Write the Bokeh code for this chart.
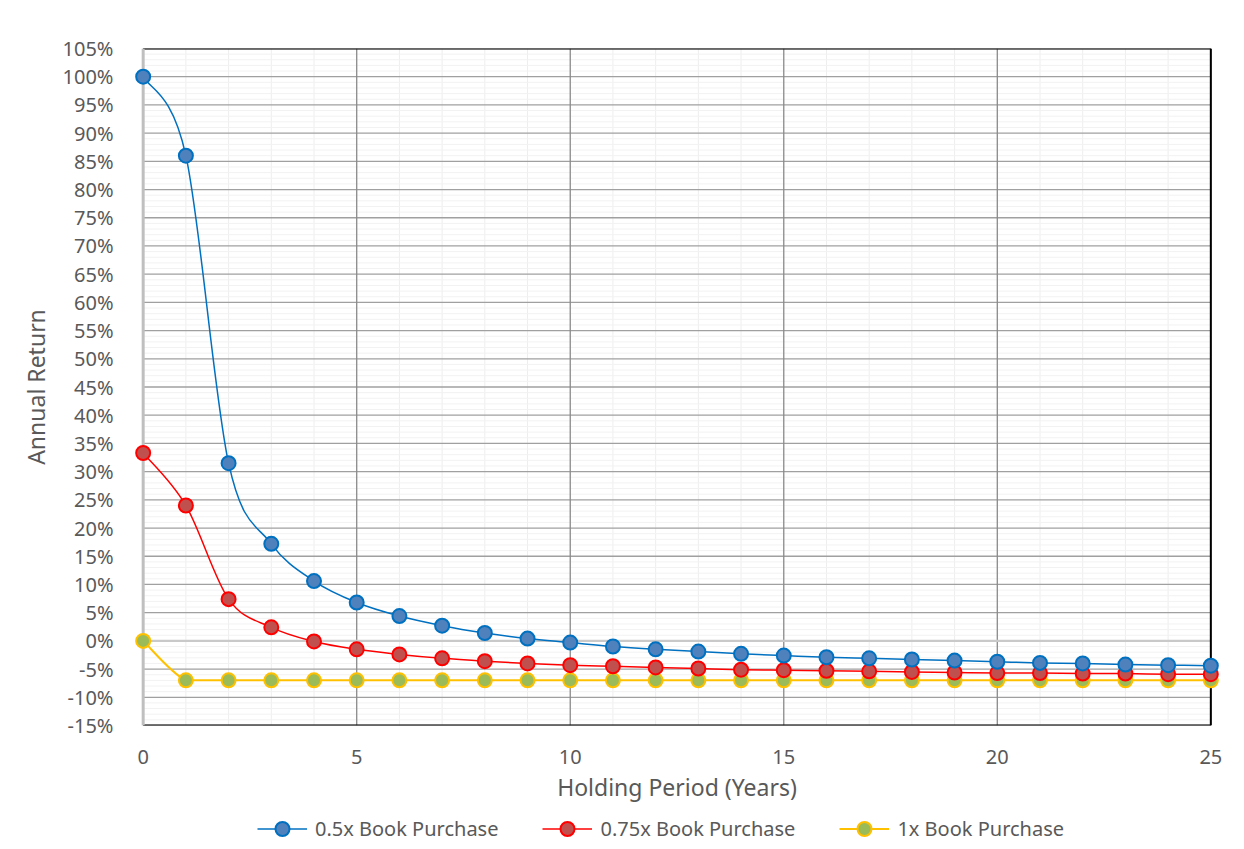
import numpy as np
from bokeh.plotting import figure
from bokeh.layouts import column
from bokeh.models import (ColumnDataSource, FixedTicker, NumeralTickFormatter,
                          Legend, LegendItem, Range1d)
from bokeh.embed import file_html
from bokeh.resources import INLINE

# ---------------- data ----------------
years = list(range(26))
book_050 = [1.000, 0.860, 0.315, 0.172, 0.106, 0.068, 0.044, 0.027, 0.014, 0.004,
            -0.003, -0.010, -0.015, -0.019, -0.023, -0.026, -0.029, -0.031, -0.033,
            -0.035, -0.037, -0.039, -0.040, -0.042, -0.043, -0.044]
book_075 = [0.333, 0.240, 0.074, 0.024, -0.001, -0.015, -0.024, -0.031, -0.036, -0.040,
            -0.043, -0.045, -0.047, -0.049, -0.051, -0.052, -0.053, -0.054, -0.055,
            -0.056, -0.057, -0.057, -0.058, -0.058, -0.059, -0.059]
book_100 = [0.000, -0.070, -0.070, -0.070, -0.070, -0.070, -0.070, -0.070, -0.070, -0.070,
            -0.070, -0.070, -0.070, -0.070, -0.070, -0.070, -0.070, -0.070, -0.070,
            -0.070, -0.070, -0.070, -0.070, -0.070, -0.070, -0.070]
series_labels = ["0.5x Book Purchase", "0.75x Book Purchase", "1x Book Purchase"]
x_ticks = [0, 5, 10, 15, 20, 25]
y_ticks = [round(v / 100, 2) for v in range(-15, 110, 5)]

X_MIN, X_MAX = 0, 25
Y_MIN, Y_MAX = -0.15, 1.05
PAD = 0.25

FONT = "Noto Sans"
TXT = "#595959"

p = figure(width=1244, height=810, output_backend="svg", toolbar_location=None,
           x_range=Range1d(X_MIN - PAD, X_MAX + PAD), y_range=Range1d(Y_MIN, Y_MAX))
p.min_border = 0
p.min_border_left = 132
p.min_border_right = 23
p.min_border_top = 48
p.min_border_bottom = 85
p.outline_line_color = None
p.background_fill_color = "white"
p.border_fill_color = "white"
p.xgrid.visible = False
p.ygrid.visible = False

# gridlines (drawn as segments so they stop at the plot-area border)
x_minor = [v for v in years if v not in x_ticks]
y_minor = [round(v / 100, 2) for v in range(-15, 106) if v % 5 != 0]
p.segment(x0=x_minor, x1=x_minor, y0=Y_MIN, y1=Y_MAX, line_color="#eeeeee", line_width=1)
p.segment(x0=X_MIN, x1=X_MAX, y0=y_minor, y1=y_minor, line_color="#f2f2f2", line_width=1)
p.segment(x0=X_MIN, x1=X_MAX, y0=y_ticks, y1=y_ticks, line_color="#a0a0a0", line_width=1.3)
p.segment(x0=x_ticks, x1=x_ticks, y0=Y_MIN, y1=Y_MAX, line_color="#8a8a8a", line_width=1.3)
# horizontal axis line at 0
p.segment(x0=[X_MIN], x1=[X_MAX], y0=[0], y1=[0], line_color="#c9c9c9", line_width=2.2)
# plot-area border
p.segment(x0=[X_MIN, X_MAX, X_MIN], x1=[X_MAX, X_MAX, X_MAX],
          y0=[Y_MAX, Y_MIN, Y_MIN], y1=[Y_MAX, Y_MAX, Y_MIN],
          line_color="black", line_width=2)
# vertical axis line
p.segment(x0=[X_MIN], x1=[X_MIN], y0=[Y_MIN], y1=[Y_MAX], line_color="#bfbfbf", line_width=3)


def smooth(xs, ys):
    xs = np.asarray(xs, float)
    ys = np.asarray(ys, float)
    n = len(xs)
    xp = np.concatenate([[xs[0]], xs, [xs[-1]]])
    yp = np.concatenate([[ys[0]], ys, [ys[-1]]])
    cy0 = ys[:-1] + (yp[2:n + 1] - yp[0:n - 1]) / 6
    cy1 = ys[1:] - (yp[3:n + 2] - yp[1:n]) / 6
    lo = np.minimum(ys[:-1], ys[1:])
    hi = np.maximum(ys[:-1], ys[1:])
    return dict(
        x0=xs[:-1], y0=ys[:-1], x1=xs[1:], y1=ys[1:],
        cx0=xs[:-1] + (xp[2:n + 1] - xp[0:n - 1]) / 6,
        cy0=np.clip(cy0, lo, hi),
        cx1=xs[1:] - (xp[3:n + 2] - xp[1:n]) / 6,
        cy1=np.clip(cy1, lo, hi),
    )


styles = [
    (book_100, "#ffc000", "#9bbb59", "#ffc000", 2.0, series_labels[2]),
    (book_075, "#ff0000", "#c0504d", "#ff0000", 1.5, series_labels[1]),
    (book_050, "#0070c0", "#4f81bd", "#0070c0", 1.5, series_labels[0]),
]
for vals, lc, fc, oc, lw, lab in styles:
    p.bezier(source=ColumnDataSource(smooth(years, vals)), x0="x0", y0="y0", x1="x1", y1="y1",
             cx0="cx0", cy0="cy0", cx1="cx1", cy1="cy1", line_color=lc, line_width=lw)
for vals, lc, fc, oc, lw, lab in styles:
    p.scatter(years, vals, size=14, fill_color=fc, line_color=oc, line_width=2)

# axes
for ax in (p.xaxis[0], p.yaxis[0]):
    ax.axis_line_color = None
    ax.major_tick_line_color = None
    ax.minor_tick_line_color = None
    ax.major_label_text_font = FONT
    ax.major_label_text_font_size = "20px"
    ax.major_label_text_color = TXT
    ax.axis_label_text_font = FONT
    ax.axis_label_text_font_size = "23px"
    ax.axis_label_text_font_style = "normal"
    ax.axis_label_text_color = TXT

p.xaxis.ticker = FixedTicker(ticks=x_ticks)
p.xaxis.axis_label = "Holding Period (Years)"
p.xaxis.major_label_standoff = 18
p.xaxis.axis_label_standoff = 4

p.yaxis.ticker = FixedTicker(ticks=y_ticks)
p.yaxis.formatter = NumeralTickFormatter(format="0%")
p.yaxis.axis_label = "Annual Return"
p.yaxis.major_label_standoff = 13
p.yaxis.axis_label_standoff = 8

# ---------------- legend strip ----------------
lg = figure(width=1244, height=39, output_backend="svg", toolbar_location=None,
            x_range=Range1d(-100, -99), y_range=Range1d(-100, -99),
            x_axis_type=None, y_axis_type=None)
lg.min_border = 0
lg.outline_line_color = None
lg.xgrid.visible = False
lg.ygrid.visible = False
leg_items = []
for vals, lc, fc, oc, lw, lab in reversed(styles):
    ln = lg.line(years, vals, line_color=lc, line_width=lw)
    sc = lg.scatter(years, vals, size=14, fill_color=fc, line_color=oc, line_width=2)
    leg_items.append(LegendItem(label=lab, renderers=[ln, sc]))

legend = Legend(items=leg_items, orientation="horizontal", location=(125, 3))
legend.glyph_width = 50
legend.glyph_height = 35
legend.label_standoff = 8
legend.spacing = 44
legend.padding = 0
legend.margin = 0
legend.border_line_color = None
legend.background_fill_alpha = 0
legend.label_text_font = FONT
legend.label_text_font_size = "20px"
legend.label_text_color = TXT
lg.add_layout(legend, "center")

layout = column(p, lg, spacing=0)
open("out.html", "w").write(file_html(layout, INLINE))
